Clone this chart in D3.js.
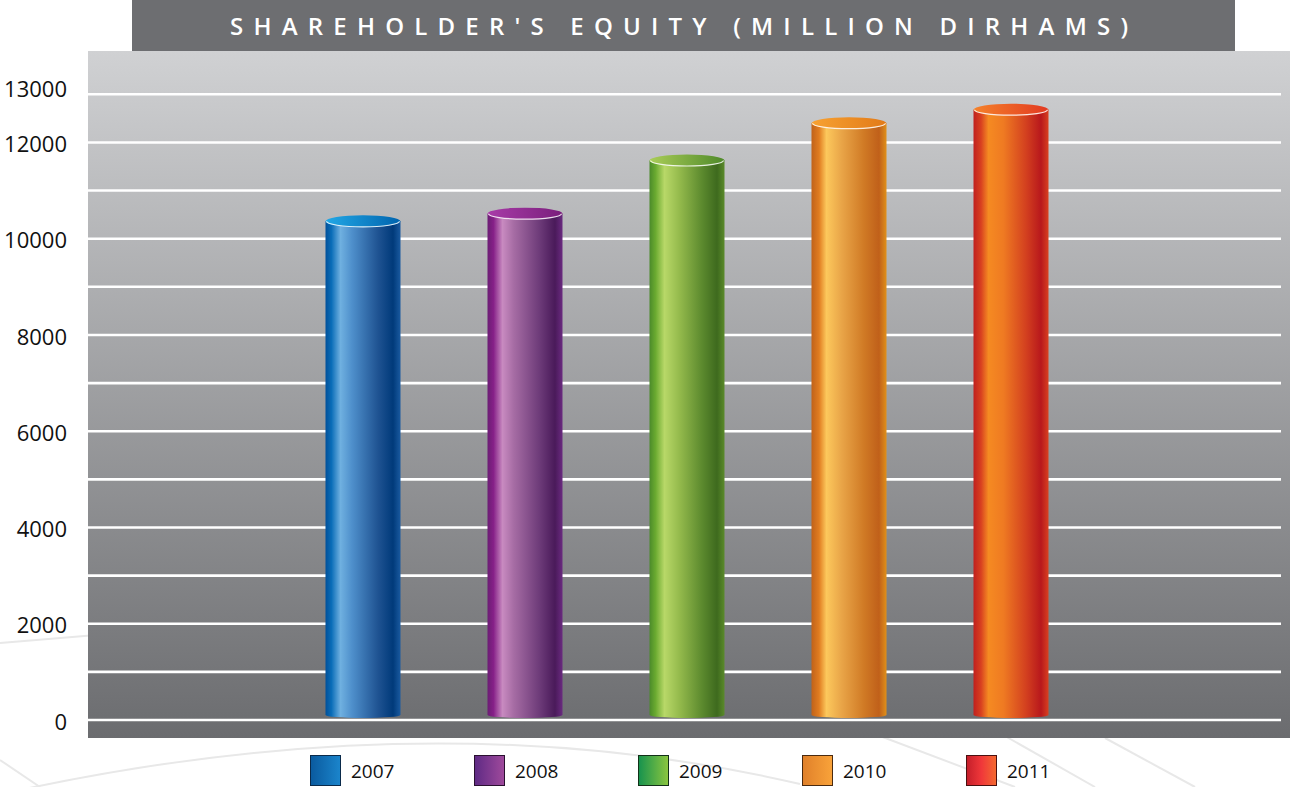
<!DOCTYPE html>
<html><head><meta charset="utf-8">
<script src="https://cdn.jsdelivr.net/npm/d3@7"></script>
<style>html,body{margin:0;padding:0;background:#fff;}svg{display:block;}</style>
</head><body>
<svg id="c" width="1290" height="787"></svg>
<script>
const title = "SHAREHOLDER'S EQUITY (MILLION DIRHAMS)";
const years = ["2007","2008","2009","2010","2011"];
const values = [10360, 10520, 11625, 12400, 12680];
const tickLabels = [0, 2000, 4000, 6000, 8000, 10000, 12000, 13000];
const gridValues = d3.range(0, 13001, 1000);
const bodyStops = [
  [[0,"#00509a"],[0.08,"#0a6db8"],[0.2,"#6fb0e0"],[0.35,"#4f90cc"],[0.7,"#1f5392"],[0.9,"#003a7a"],[1,"#1a5aa0"]],
  [[0,"#6b1d74"],[0.08,"#862088"],[0.2,"#c88ac0"],[0.35,"#a66ca4"],[0.7,"#6c3a78"],[0.9,"#4a1a5a"],[1,"#6a2a80"]],
  [[0,"#4a8a2a"],[0.08,"#6aaa30"],[0.2,"#b8d868"],[0.4,"#94ba4c"],[0.7,"#5c8a2e"],[0.9,"#3e6a1e"],[1,"#5a8a2a"]],
  [[0,"#c0621a"],[0.1,"#e07c20"],[0.2,"#fcc85c"],[0.4,"#e9a548"],[0.7,"#d07a25"],[0.9,"#c0601a"],[1,"#e0901a"]],
  [[0,"#c0201e"],[0.1,"#d84020"],[0.2,"#f58a22"],[0.4,"#ef7a22"],[0.7,"#d3401f"],[0.9,"#b8181c"],[1,"#d84020"]]
];
const topStops = [["#22a8e6","#0064ae"],["#a83ca8","#7a1e7c"],["#aacd58","#4f8a2a"],["#f7a232","#e27a18"],["#f5822a","#e23a22"]];
const legendStops = [["#0a5a9e","#1b85cc"],["#5e2a84","#a04a9c"],["#16924e","#8cc63f"],["#e0802a","#f9a33a"],["#c41e2a","#f0383a","#f46a30"]];
const legendStroke = ["#0a2a4a","#2a1030","#123018","#4a2a10","#4a1010"];

const svg = d3.select("#c");
const defs = svg.append("defs");

// background decorative lines
const deco = svg.append("g").attr("fill","none").attr("stroke","#e8e8e8").attr("stroke-width",2);
deco.append("path").attr("d","M20,790 Q 440,700 800,784");
deco.append("path").attr("d","M0,643 Q 200,625 400,615");
deco.append("path").attr("d","M0,760 L40,787");
deco.append("path").attr("d","M880,736 L1015,787");
deco.append("path").attr("d","M1005,736 L1095,787");
deco.append("path").attr("d","M1105,738 L1195,787");

// title bar
svg.append("rect").attr("x",132).attr("y",0).attr("width",1103).attr("height",51).attr("fill","#6d6e71");
svg.append("text").attr("x",230).attr("y",35)
  .attr("textLength",898).attr("lengthAdjust","spacing")
  .attr("font-family","'Open Sans', sans-serif").attr("font-weight",600).attr("font-size",24)
  .attr("fill","#ffffff").text(title);

// plot background
const bg = defs.append("linearGradient").attr("id","bg").attr("x1",0).attr("y1",0).attr("x2",0).attr("y2",1);
bg.append("stop").attr("offset",0).attr("stop-color","#d0d1d3");
bg.append("stop").attr("offset",1).attr("stop-color","#6b6c6f");
svg.append("rect").attr("x",88).attr("y",51).attr("width",1202).attr("height",687).attr("fill","url(#bg)");

const y = d3.scaleLinear().domain([0,13000]).range([720,94.3]);
const x = d3.scaleBand().domain(years).range([282,1092]).paddingInner(0.537).paddingOuter(0.2685);

// gridlines
svg.append("g").selectAll("line").data(gridValues).join("line")
  .attr("x1",88).attr("x2",1281).attr("y1",d=>y(d)).attr("y2",d=>y(d))
  .attr("stroke","#ffffff").attr("stroke-width",2.6);

// y labels
svg.append("g").selectAll("text").data(tickLabels).join("text")
  .attr("x",67).attr("y",d=>y(d)+ (d===13000 ? -5 : 2))
  .attr("dy","0.35em").attr("text-anchor","end")
  .attr("font-family","'Open Sans', sans-serif").attr("font-size",22).attr("fill","#111")
  .text(d=>d);

// gradients for bars
years.forEach((yr,i)=>{
  const g = defs.append("linearGradient").attr("id","body"+i).attr("x1",0).attr("y1",0).attr("x2",1).attr("y2",0);
  bodyStops[i].forEach(s=>g.append("stop").attr("offset",s[0]).attr("stop-color",s[1]));
  const t = defs.append("linearGradient").attr("id","top"+i).attr("x1",0).attr("y1",0).attr("x2",1).attr("y2",0);
  t.append("stop").attr("offset",0).attr("stop-color",topStops[i][0]);
  t.append("stop").attr("offset",1).attr("stop-color",topStops[i][1]);
  const l = defs.append("linearGradient").attr("id","leg"+i).attr("x1",0).attr("y1",0).attr("x2",1).attr("y2",0);
  legendStops[i].forEach((c,k,arr)=>l.append("stop").attr("offset",k/(arr.length-1)).attr("stop-color",c));
});

const bw = x.bandwidth(), ry = 6, bry = 3;
const bars = svg.append("g").selectAll("g").data(years).join("g");
bars.append("path")
  .attr("d",(d,i)=>{
    const x0 = x(d), x1 = x0+bw, yt = y(values[i]), yb = y(0)-2;
    return `M${x0},${yt} L${x0},${yb-bry} A${bw/2},${bry} 0 0 0 ${x1},${yb-bry} L${x1},${yt} Z`;
  })
  .attr("fill",(d,i)=>`url(#body${i})`);
bars.append("ellipse")
  .attr("cx",d=>x(d)+bw/2).attr("cy",(d,i)=>y(values[i]))
  .attr("rx",bw/2).attr("ry",ry)
  .attr("fill",(d,i)=>`url(#top${i})`);
bars.append("path")
  .attr("d",(d,i)=>{
    const x0 = x(d), x1 = x0+bw, yt = y(values[i]);
    return `M${x0+1},${yt} A${bw/2-1},${ry-0.5} 0 0 0 ${x1-1},${yt}`;
  })
  .attr("fill","none").attr("stroke","#ffffff").attr("stroke-opacity",0.85).attr("stroke-width",1.2);

// legend
const lx = d3.scaleBand().domain(years).range([310,1130]).paddingInner(0).paddingOuter(0);
const leg = svg.append("g").selectAll("g").data(years).join("g")
  .attr("transform",d=>`translate(${lx(d)},755)`);
leg.append("rect").attr("x",0.5).attr("y",0.5).attr("width",30).attr("height",30)
  .attr("fill",(d,i)=>`url(#leg${i})`).attr("stroke",(d,i)=>legendStroke[i]).attr("stroke-width",1);
leg.append("text").attr("x",41).attr("y",16).attr("dy","0.35em")
  .attr("font-family","'Open Sans', sans-serif").attr("font-size",19).attr("fill","#111")
  .text(d=>d);
</script>
</body></html>
